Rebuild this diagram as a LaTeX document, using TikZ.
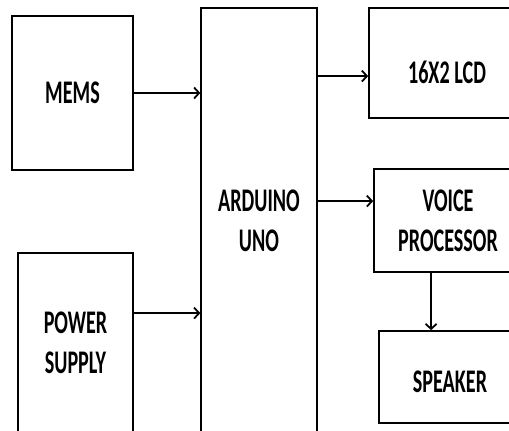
\documentclass[tikz,border=0pt]{standalone}
\usepackage{fontspec}
\setmainfont{Carlito}[FakeStretch=0.61]
\usepackage{tikz}
\usetikzlibrary{arrows.meta,positioning,calc}

\begin{document}
\begin{tikzpicture}[
  x=1pt, y=1pt,
  box/.style={draw, line width=1.8pt, align=center, inner sep=0pt,
    font=\fontsize{33}{40}\selectfont\bfseries},
  arr/.style={-{Straight Barb[length=5pt, width=11pt]}, line width=1.8pt},
]
  \clip (0,0) rectangle (509,431);
  \node[box, minimum width=116pt, minimum height=426pt, line width=1.4pt] (ard) at (259,210) {ARDUINO\\UNO};
  \node[box, minimum width=121pt, minimum height=154pt] (mems) at (72.5,338) {MEMS};
  \node[box, minimum width=115pt, minimum height=180pt] (power) at (75.5,88) {POWER\\SUPPLY};
  \node[box, minimum width=156pt, minimum height=110pt, text height=42pt] (lcd) at (447,368) {16X2 LCD};
  \node[box, minimum width=148pt, minimum height=103pt] (voice) at (448,210.5) {VOICE\\PROCESSOR};
  \node[box, minimum width=142pt, minimum height=92pt, text height=32pt] (spk) at (450,54) {SPEAKER};

  \draw[arr] (mems.east) -- (mems.east -| ard.west);
  \draw[arr] ($(power.north east)+(0,-61)$) -- ($(power.north east -| ard.west)+(0,-61)$);
  \draw[arr] ($(lcd.north west -| ard.east)+(0,-69)$) -- ($(lcd.north west)+(0,-69)$);
  \draw[arr] ($(voice.north west -| ard.east)+(0,-33)$) -- ($(voice.north west)+(0,-33)$);
  \draw[arr] ([xshift=58pt]voice.south west) -- ([xshift=53pt]spk.north west);
\end{tikzpicture}
\end{document}
